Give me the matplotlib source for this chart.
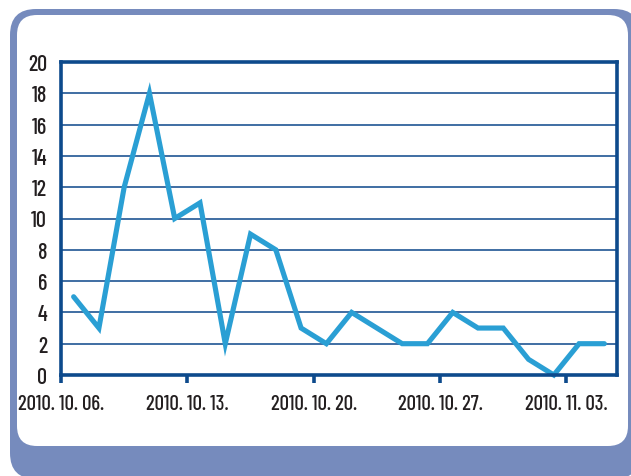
import numpy as np
import matplotlib.pyplot as plt
from matplotlib.patches import FancyBboxPatch

# business days from 2010.10.06 to 2010.11.04
days = ['10.06', '10.07', '10.08', '10.11', '10.12',
        '10.13', '10.14', '10.15', '10.18', '10.19',
        '10.20', '10.21', '10.22', '10.25', '10.26',
        '10.27', '10.28', '10.29', '11.01', '11.02',
        '11.03', '11.04']
values = [5, 3, 12, 18, 10, 11, 2, 9, 8, 3, 2, 4, 3, 2, 2, 4, 3, 3, 1, 0, 2, 2]
tick_labels = ['2010. 10. 06.', '2010. 10. 13.', '2010. 10. 20.',
               '2010. 10. 27.', '2010. 11. 03.']
yticks = list(range(0, 21, 2))

W, H = 631, 477
fig = plt.figure(figsize=(W / 100, H / 100), dpi=100)
fig.patch.set_facecolor('white')

def px_box(x0, y0, x1, y1, r, color):
    # pixel coords measured from the top-left corner
    return FancyBboxPatch((x0 / W, 1 - y1 / H), (x1 - x0) / W, (y1 - y0) / H,
                          boxstyle=f"round,pad=0,rounding_size={r / W}",
                          transform=fig.transFigure, facecolor=color,
                          edgecolor='none', mutation_aspect=W / H, zorder=-5)

fig.patches.append(px_box(10, 10, 640, 480, 26, '#768bbd'))
fig.patches.append(px_box(17, 16, 628, 447, 20, 'white'))

ax = fig.add_axes([61 / W, 1 - 376 / H, 556 / W, 313 / H])
ax.set_facecolor('white')

x = np.arange(len(days))
ax.plot(x, values, color='#2a9fd4', lw=3.7, solid_joinstyle='miter',
        solid_capstyle='round', zorder=3, clip_on=False)

ax.set_xlim(-0.5, len(days) - 0.5)
ax.set_ylim(0, 20)
ax.set_yticks(yticks)
ax.set_yticklabels([str(v) for v in yticks])
ax.set_xticks(x[::5] - 0.5)
ax.set_xticklabels(tick_labels)

for v in yticks[1:-1]:
    ax.axhline(v, color='#1f5594', lw=1.2, zorder=1)

dark = '#0d4a8c'
for s in ax.spines.values():
    s.set_color(dark)
    s.set_linewidth(2.6)
    s.set_zorder(4)

font = ['Barlow Condensed', 'DejaVu Sans']
ax.tick_params(axis='y', length=0, pad=10, labelsize=16, labelcolor='#231f20')
ax.tick_params(axis='x', length=6, width=2.6, color=dark, direction='out',
               pad=8, labelsize=15, labelcolor='#231f20')
for lab in ax.get_xticklabels() + ax.get_yticklabels():
    lab.set_family(font)
    lab.set_weight('medium')

fig.savefig('out.png', dpi=100)
